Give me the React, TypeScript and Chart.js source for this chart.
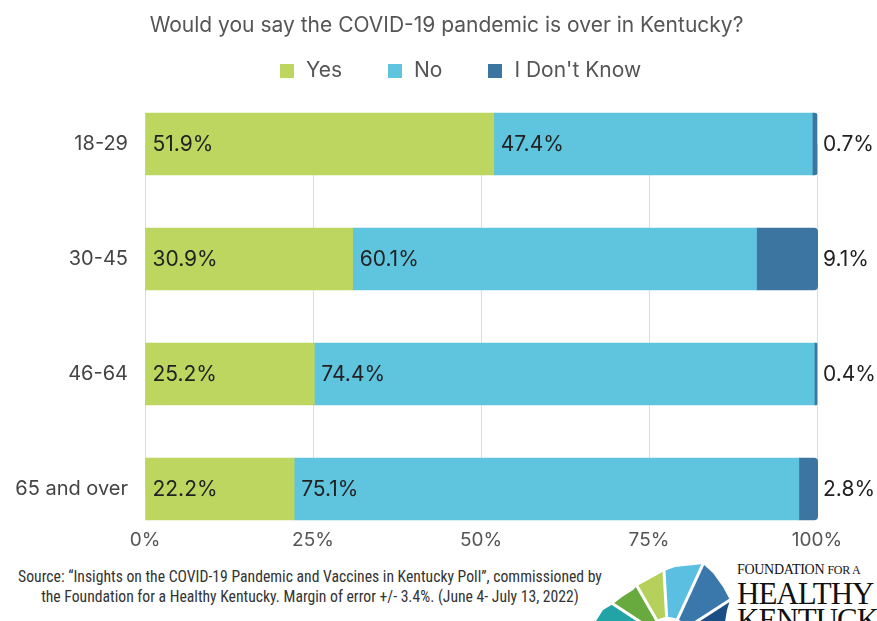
import React, { useEffect, useRef } from "react";
import { Chart, registerables } from "chart.js";

Chart.register(...registerables);

const title = "Would you say the COVID-19 pandemic is over in Kentucky?";
const categories = ["18-29", "30-45", "46-64", "65 and over"];
const seriesNames = ["Yes", "No", "I Don't Know"];
const yesValues = [51.9, 30.9, 25.2, 22.2];
const noValues = [47.4, 60.1, 74.4, 75.1];
const dontKnowValues = [0.7, 9.1, 0.4, 2.8];
const seriesColors = ["#bdd660", "#5fc5df", "#3c76a0"];
const xTickValues = [0, 25, 50, 75, 100];
const sourceLines = [
  "Source: \u201cInsights on the COVID-19 Pandemic and Vaccines in Kentucky Poll\u201d, commissioned by",
  "the Foundation for a Healthy Kentucky. Margin of error +/- 3.4%. (June 4- July 13, 2022)",
];

const FONT = "Inter, Roboto, sans-serif";

const valueLabels = {
  id: "valueLabels",
  afterDatasetsDraw(chart: any) {
    const ctx = chart.ctx;
    ctx.save();
    ctx.font = "21px Inter";
    ctx.fillStyle = "#222";
    ctx.textBaseline = "middle";
    ctx.textAlign = "left";
    chart.data.datasets.forEach((ds: any, di: number) => {
      const meta = chart.getDatasetMeta(di);
      meta.data.forEach((bar: any, i: number) => {
        const p = bar.getProps(["x", "y", "base"], true);
        const text = Number(ds.data[i]).toFixed(1) + "%";
        if (di < 2) {
          ctx.fillText(text, Math.min(p.x, p.base) + 7, p.y + 1);
        } else {
          ctx.fillText(text, chart.chartArea.right + 6, p.y + 1);
        }
      });
    });
    ctx.restore();
  },
};

const LOGO_C = [668, 640];
const logoPieces = [
  { fill: "#22a3a6", pts: [[596, 640], [596, 621], [603, 610], [613, 604]] },
  { fill: "#69aa3e", pts: [[613, 604], [622, 597], [633, 590], [637, 586]] },
  { fill: "#b6d15b", pts: [[637, 586], [648, 580], [657, 575], [664, 571]] },
  { fill: "#5bbfe2", pts: [[664, 571], [675, 567], [703, 564]] },
  { fill: "#3a77aa", pts: [[703, 564], [713, 573], [723, 587], [730, 600]] },
  { fill: "#1c4e86", pts: [[730, 600], [727, 610], [722, 640]] },
];
const logoRays = [[613, 604], [637, 586], [664, 571], [703, 564], [730, 600]];

export default function App() {
  const canvasRef = useRef<HTMLCanvasElement | null>(null);

  useEffect(() => {
    document.body.style.margin = "0";
    const canvas = canvasRef.current;
    if (!canvas) return;
    const values = [yesValues, noValues, dontKnowValues];
    const chart = new Chart(canvas, {
      type: "bar",
      data: {
        labels: categories,
        datasets: seriesNames.map((name, i) => ({
          label: name,
          data: values[i],
          backgroundColor: seriesColors[i],
          borderWidth: 0,
          barThickness: 62,
          clip: false as any,
          borderRadius: i === 2 ? 4 : 0,
          borderSkipped: "start" as any,
        })),
      },
      options: {
        indexAxis: "y",
        animation: false,
        responsive: false,
        events: [],
        layout: { padding: { top: 144, left: 0, right: 60, bottom: 11 } },
        plugins: {
          legend: { display: false },
          title: { display: false },
          tooltip: { enabled: false },
        },
        scales: {
          x: {
            type: "linear",
            stacked: true,
            min: 0,
            max: 100,
            afterBuildTicks(scale: any) {
              scale.ticks = xTickValues.map((v) => ({ value: v }));
            },
            afterFit(scale: any) {
              scale.height = 60;
              scale.paddingLeft = 12;
              scale.paddingRight = 25;
            },
            ticks: {
              padding: 40,
              color: "#555",
              font: { family: "Inter", size: 19 },
              callback: (v: any) => v + "%",
            },
            grid: { color: "#dcdcdc", lineWidth: 1, drawTicks: false },
            border: { display: false },
          },
          y: {
            type: "category",
            stacked: true,
            offset: false,
            afterFit(scale: any) {
              scale.width = 145;
            },
            ticks: {
              padding: 17,
              color: "#444",
              font: { family: "Inter", size: 20 },
            },
            grid: { display: false, drawTicks: false },
            border: { display: false },
          },
        },
      },
      plugins: [valueLabels],
    });
    return () => chart.destroy();
  }, []);

  const cx = LOGO_C[0];
  const cy = LOGO_C[1];

  return (
    <div
      style={{
        position: "relative",
        width: 877,
        height: 621,
        overflow: "hidden",
        background: "#fff",
        fontFamily: FONT,
      }}
    >
      <canvas
        ref={canvasRef}
        width={877}
        height={560}
        style={{ position: "absolute", left: 0, top: 0, width: 877, height: 560 }}
      />
      <div
        style={{
          position: "absolute",
          left: 0,
          width: 893,
          top: 12,
          textAlign: "center",
          fontSize: 21,
          color: "#555",
          whiteSpace: "nowrap",
        }}
      >
        {title}
      </div>
      <div
        style={{
          position: "absolute",
          left: 280,
          top: 57,
          display: "flex",
          alignItems: "center",
          gap: 46,
          fontSize: 21,
          color: "#555",
          whiteSpace: "nowrap",
        }}
      >
        {seriesNames.map((n, i) => (
          <div key={n} style={{ display: "flex", alignItems: "center" }}>
            <span
              style={{
                display: "inline-block",
                width: 14,
                height: 14,
                background: seriesColors[i],
                marginRight: 12,
                marginTop: 3,
              }}
            />
            <span>{n}</span>
          </div>
        ))}
      </div>
      <div
        style={{
          position: "absolute",
          left: 0,
          width: 620,
          top: 567,
          textAlign: "center",
          fontFamily: "'Liberation Sans Narrow', 'Roboto Condensed', sans-serif",
          fontSize: 15.7,
          lineHeight: "20px",
          color: "#333",
          whiteSpace: "nowrap",
        }}
      >
        {sourceLines.map((l) => (
          <div key={l}>{l}</div>
        ))}
      </div>
      <svg
        width={150}
        height={60}
        viewBox="590 561 150 60"
        style={{ position: "absolute", left: 590, top: 561 }}
      >
        {logoPieces.map((p, i) => (
          <polygon
            key={i}
            points={[[cx, cy], ...p.pts].map((q) => q.join(",")).join(" ")}
            fill={p.fill}
          />
        ))}
        {logoRays.map((r, i) => (
          <line
            key={i}
            x1={cx}
            y1={cy}
            x2={cx + (r[0] - cx) * 1.2}
            y2={cy + (r[1] - cy) * 1.2}
            stroke="#fff"
            strokeWidth={3}
          />
        ))}
        <circle cx={cx} cy={cy} r={23} fill="#fff" />
      </svg>
      <div
        style={{
          position: "absolute",
          left: 737,
          top: 563,
          fontFamily: "'Liberation Serif', 'DejaVu Serif', serif",
          color: "#111",
          whiteSpace: "nowrap",
          lineHeight: 1,
        }}
      >
        <div style={{ fontSize: 14, letterSpacing: -0.3 }}>
          FOUNDATION <span style={{ fontSize: 12 }}>FOR A</span>
        </div>
        <div style={{ fontSize: 31, letterSpacing: -1, marginTop: 1 }}>HEALTHY</div>
        <div style={{ fontSize: 31, letterSpacing: -1, marginTop: -5 }}>KENTUCKY</div>
      </div>
    </div>
  );
}
